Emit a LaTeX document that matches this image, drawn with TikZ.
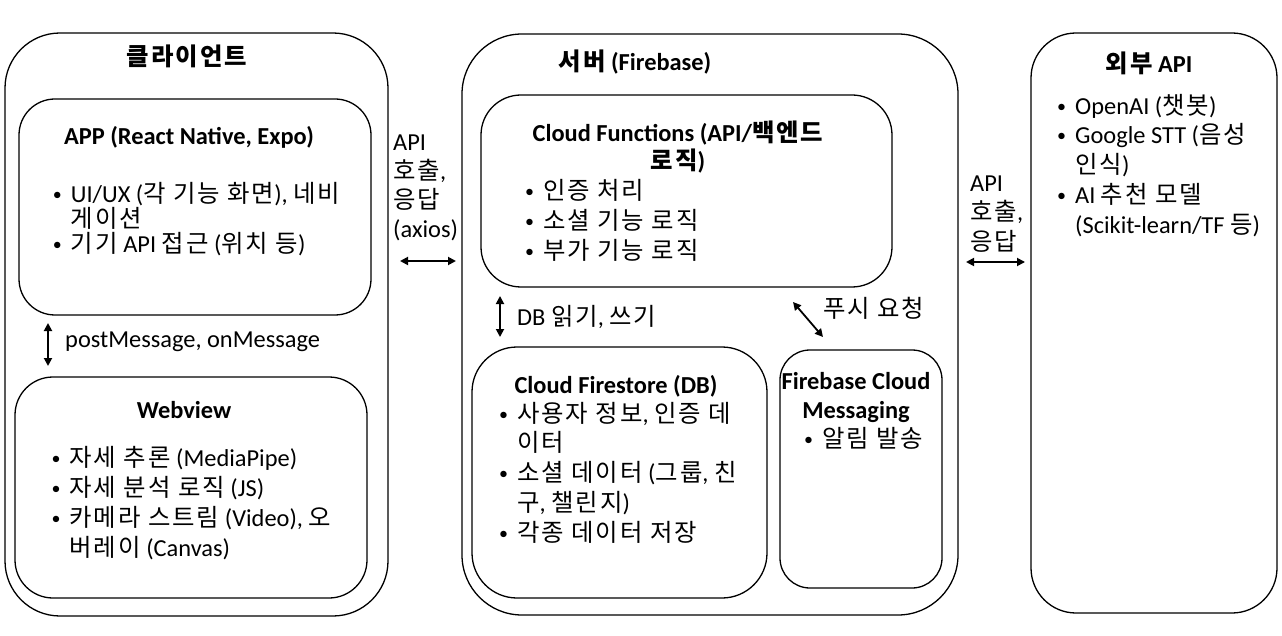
\documentclass[tikz,border=0pt]{standalone}
\usepackage{fontspec}
\setmainfont{Carlito}
\newfontfamily\krfont{Noto Sans CJK KR}[Scale=1.0,LetterSpace=8]
\usetikzlibrary{arrows.meta}
\newcommand\ko[1]{{\krfont #1}}
\newcommand\fs{\rule{0pt}{24pt}}
\newcommand\bl{\makebox[18pt][l]{\raisebox{2pt}{\fontsize{18}{18}\selectfont •}}}
\newcommand\ind{\hspace*{18pt}}
\begin{document}
\begin{tikzpicture}[x=1pt,y=-1pt,
  box/.style={draw, line width=1.3pt, inner sep=0pt},
  ttl/.style={inner sep=0pt, font={\fontsize{24.4}{29}\selectfont\bfseries}},
  lbl/.style={inner sep=0pt, font={\fontsize{24.4}{29}\selectfont}},
  lst/.style={inner sep=0pt, align=left, anchor=north west,
    font={\fontsize{24.4}{#1}\selectfont\lineskiplimit=-30pt}},
  ctl/.style={inner sep=0pt, align=center, anchor=north,
    font={\fontsize{24.4}{#1}\selectfont\bfseries\lineskiplimit=-30pt}},
  arr/.style={line width=1.8pt, arrows={Triangle[length=8pt,width=8pt]-Triangle[length=8pt,width=8pt]}}]
\fill[white] (0,0) rectangle (1282,636);
\useasboundingbox (0,0) rectangle (1282,636);

% ---- boxes
\node[box, rounded corners=55pt, minimum width=383pt, minimum height=583pt] (client) at (196.5,324.5) {};
\node[box, rounded corners=36pt, minimum width=352pt, minimum height=216pt] (app) at (195,207) {};
\node[box, rounded corners=38pt, minimum width=352pt, minimum height=221pt] (web) at (191,487.5) {};
\node[box, rounded corners=60pt, minimum width=496pt, minimum height=581pt] (server) at (710,324.5) {};
\node[box, rounded corners=40pt, minimum width=411pt, minimum height=192pt] (cf) at (686.5,191) {};
\node[box, rounded corners=45pt, minimum width=295pt, minimum height=251pt] (fs) at (619.5,472.5) {};
\node[box, rounded corners=30pt, minimum width=162pt, minimum height=238pt] (fcm) at (861,469) {};
\node[box, rounded corners=45pt, minimum width=246pt, minimum height=580pt] (ext) at (1154,323) {};

% ---- client texts
\node[ttl, anchor=base] (clientT) at (187,66) {\ko{클라이언트}};
\node[ttl, anchor=base] (appT) at (189,145) {APP (React Native, Expo)};
\node[lst=25] (appL) at (52.7,178) {\fs\bl UI/UX (\ko{각 기능 화면}), \ko{네비}\\\ind \ko{게이션}\\\bl \ko{기기} API \ko{접근} (\ko{위치 등})};
\node[lbl, anchor=base west] (pmT) at (65,347) {postMessage, onMessage};
\node[ttl, anchor=base] (webT) at (184,418) {Webview};
\node[lst=30] (webL) at (51.3,442) {\fs\bl \ko{자세 추론} (MediaPipe)\\\bl \ko{자세 분석 로직} (JS)\\\bl \ko{카메라 스트림} (Video), \ko{오}\\\ind \ko{버레이} (Canvas)};

% ---- client <-> server label
\node[lst=29] (axT) at (393,126) {\fs API\\\ko{호출},\\\ko{응답}\\(axios)};

% ---- server texts
\node[ttl, anchor=base] (serverT) at (635,71) {\ko{서버} (Firebase)};
\node[ctl=28] (cfT) at (678,117) {\fs Cloud Functions (API/\ko{백엔드}\\\ko{로직})};
\node[lst=30] (cfL) at (525,175) {\fs\bl \ko{인증 처리}\\\bl \ko{소셜 기능 로직}\\\bl \ko{부가 기능 로직}};
\node[lbl, anchor=base west] (dbT) at (517,325) {DB \ko{읽기}, \ko{쓰기}};
\node[lbl, anchor=base west] (puT) at (823,317) {\ko{푸시 요청}};
\node[ttl, anchor=base] (fsT) at (616,393) {Cloud Firestore (DB)};
\node[lst=29.75] (fsL) at (499,398) {\fs\bl \ko{사용자 정보}, \ko{인증 데}\\\ind \ko{이터}\\\bl \ko{소셜 데이터} (\ko{그룹}, \ko{친}\\\ind \ko{구}, \ko{챌린지})\\\bl \ko{각종 데이터 저장}};
\node[ctl=29] (fcmT) at (856,365) {\fs Firebase Cloud\\Messaging};
\node[lst=29] (fcmL) at (804,423) {\fs\bl \ko{알림 발송}};

% ---- server <-> external label
\node[lst=29.5] (exT) at (970,167) {\fs API\\\ko{호출},\\\ko{응답}};

% ---- external texts
\node[ttl, anchor=base] (extT) at (1149,73) {\ko{외부} API};
\node[lst=29.75] (extL) at (1057,90) {\fs\bl OpenAI (\ko{챗봇})\\\bl Google STT (\ko{음성}\\\ind \ko{인식})\\\bl AI \ko{추천 모델}\\\ind (Scikit-learn/TF \ko{등})};

% ---- connectors
\coordinate (pmA) at (48,323);
\coordinate (pmB) at (48,366);
\coordinate (axA) at (400,261);
\coordinate (axB) at (456,261);
\coordinate (dbA) at (500,296);
\coordinate (dbB) at (500,337);
\coordinate (puA) at (793,302);
\coordinate (puB) at (823,337);
\coordinate (exA) at (966,262);
\coordinate (exB) at (1025,262);
\draw[arr] (pmA) -- (pmB);
\draw[arr] (axA) -- (axB);
\draw[arr] (dbA) -- (dbB);
\draw[arr] (puA) -- (puB);
\draw[arr] (exA) -- (exB);
\end{tikzpicture}
\end{document}
